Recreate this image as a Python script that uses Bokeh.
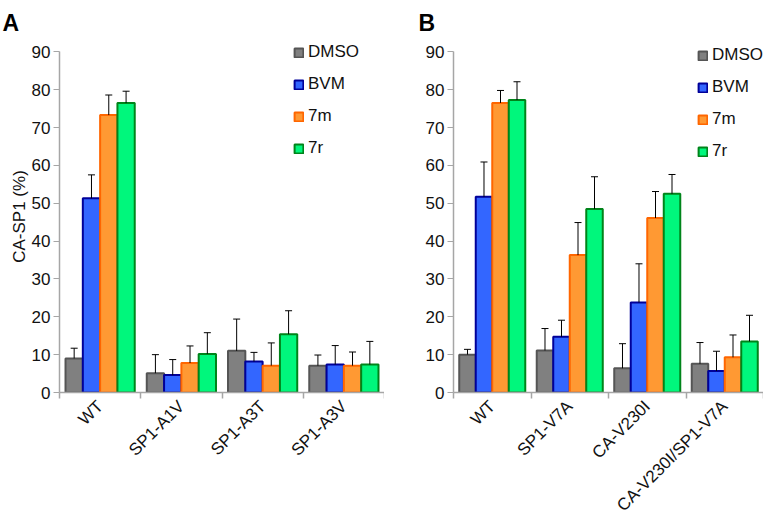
import math
from bokeh.plotting import figure
from bokeh.layouts import row
from bokeh.models import (ColumnDataSource, Range1d, FixedTicker, Legend, LegendItem,
                          Whisker, TeeHead, Title)
from bokeh.embed import file_html
from bokeh.resources import INLINE

FONT = "Liberation Sans"

series = ["DMSO", "BVM", "7m", "7r"]
fills = ["#808080", "#3366ff", "#ff9933", "#00f77c"]
edges = ["#555555", "#000099", "#ff6600", "#00841a"]

# Panel A
cats_a = ["WT", "SP1-A1V", "SP1-A3T", "SP1-A3V"]
a_dmso = [9.0, 5.1, 11.0, 7.1]
a_dmso_err = [2.7, 4.9, 8.4, 2.8]
a_bvm = [51.3, 4.6, 8.2, 7.4]
a_bvm_err = [6.2, 4.1, 2.4, 5.0]
a_7m = [73.3, 7.8, 7.1, 7.1]
a_7m_err = [5.3, 4.5, 6.0, 3.6]
a_7r = [76.5, 10.2, 15.4, 7.4]
a_7r_err = [3.1, 5.6, 6.2, 6.1]

# Panel B
cats_b = ["WT", "SP1-V7A", "CA-V230I", "CA-V230I/SP1-V7A"]
b_dmso = [10.0, 11.1, 6.4, 7.6]
b_dmso_err = [1.4, 5.8, 6.5, 5.6]
b_bvm = [51.7, 14.7, 23.8, 5.7]
b_bvm_err = [9.2, 4.4, 10.2, 5.2]
b_7m = [76.5, 36.3, 46.1, 9.3]
b_7m_err = [3.3, 8.6, 7.0, 5.9]
b_7r = [77.3, 48.5, 52.5, 13.5]
b_7r_err = [4.8, 8.5, 5.1, 6.9]

y_ticks = [0, 10, 20, 30, 40, 50, 60, 70, 80, 90]
Y_MAX_TICK = 90
Y_TOP = 93

BAR_W = 0.213
FRAME_H = 352
B_TOP = 40
AXIS_GRAY = "#a6a6a6"


def panel(letter, cats, vals, errs, frame_w, b_left, ylabel, legend_x, legend_drop,
          letter_offset):
    n = len(cats)
    p = figure(frame_width=frame_w, frame_height=FRAME_H,
               x_range=Range1d(0, n), y_range=Range1d(0, Y_TOP),
               output_backend="svg", toolbar_location=None,
               min_border_left=b_left, min_border_right=0, min_border_top=B_TOP,
               min_border_bottom=0)
    p.outline_line_color = None
    p.grid.visible = False
    p.background_fill_color = "white"

    p.title = Title(text=letter, align="left", offset=letter_offset, standoff=10,
                    text_font=FONT, text_font_size="23px", text_font_style="bold",
                    text_color="black")

    items = []
    for k, name in enumerate(series):
        xs = [i + 0.5 + (k - 1.5) * BAR_W for i in range(n)]
        tops = vals[k]
        src = ColumnDataSource(dict(x=xs, top=tops,
                                    upper=[t + e for t, e in zip(tops, errs[k])]))
        w = Whisker(source=src, base="x", lower="top", upper="upper", dimension="height",
                    line_color="black", line_width=1,
                    upper_head=TeeHead(size=7, line_color="black", line_width=1),
                    lower_head=None, level="glyph")
        p.add_layout(w)
        r = p.vbar(x="x", top="top", width=BAR_W, bottom=0, source=src,
                   fill_color=fills[k], line_color=edges[k], line_width=2)
        items.append(LegendItem(label=name, renderers=[r]))

    # legend: first row centred on the 90 line (+ drop); legend is ~117 px tall
    scale = FRAME_H / Y_TOP
    legend_y = int(round(Y_MAX_TICK * scale - legend_drop + 10 - 117))
    legend = Legend(items=items, location=(legend_x, legend_y), orientation="vertical",
                    label_text_font=FONT, label_text_font_size="17px",
                    label_text_color="#111111",
                    glyph_width=11, glyph_height=11, label_height=20,
                    label_standoff=4, spacing=12, padding=0, margin=0,
                    border_line_color=None, background_fill_alpha=0)
    p.add_layout(legend)

    # y axis
    ya = p.yaxis[0]
    ya.ticker = FixedTicker(ticks=y_ticks)
    ya.bounds = (0, Y_MAX_TICK)
    ya.axis_line_color = AXIS_GRAY
    ya.axis_line_width = 1.5
    ya.major_tick_line_color = AXIS_GRAY
    ya.major_tick_out = 6
    ya.major_tick_in = 0
    ya.minor_tick_line_color = None
    ya.major_label_text_font = FONT
    ya.major_label_text_font_size = "17px"
    ya.major_label_text_color = "#111111"
    ya.major_label_standoff = 3
    if ylabel:
        ya.axis_label = ylabel
        ya.axis_label_text_font = FONT
        ya.axis_label_text_font_size = "17px"
        ya.axis_label_text_font_style = "normal"
        ya.axis_label_text_color = "#111111"
        ya.axis_label_standoff = 0

    # x axis: labels at centres, ticks at category boundaries
    xa = p.xaxis[0]
    centers = [i + 0.5 for i in range(n)]
    xa.ticker = FixedTicker(ticks=centers, minor_ticks=list(range(n + 1)))
    xa.major_label_overrides = {c: lab for c, lab in zip(centers, cats)}
    xa.axis_line_color = AXIS_GRAY
    xa.axis_line_width = 1.5
    xa.major_tick_line_color = None
    xa.major_tick_out = 0
    xa.major_tick_in = 0
    xa.minor_tick_line_color = AXIS_GRAY
    xa.minor_tick_line_width = 1.5
    xa.minor_tick_out = 6
    xa.minor_tick_in = 0
    xa.major_label_orientation = math.pi / 4
    xa.major_label_text_font = FONT
    xa.major_label_text_font_size = "17px"
    xa.major_label_text_color = "#111111"
    xa.major_label_standoff = 5
    return p


pa = panel("A", cats_a, [a_dmso, a_bvm, a_7m, a_7r],
           [a_dmso_err, a_bvm_err, a_7m_err, a_7r_err],
           frame_w=325, b_left=59, ylabel="CA-SP1 (%)",
           legend_x=234, legend_drop=0, letter_offset=-57)
pb = panel("B", cats_b, [b_dmso, b_bvm, b_7m, b_7r],
           [b_dmso_err, b_bvm_err, b_7m_err, b_7r_err],
           frame_w=310, b_left=69, ylabel=None,
           legend_x=244, legend_drop=3, letter_offset=-35)

layout = row(pa, pb)
open("out.html", "w").write(file_html(layout, INLINE))
